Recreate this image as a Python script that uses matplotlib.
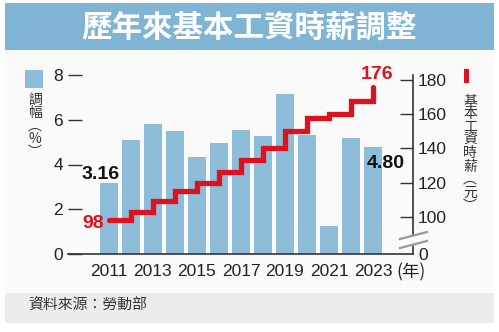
# -*- encoding: utf-8 -*-
import matplotlib
matplotlib.use('Agg')
import matplotlib.pyplot as plt
from matplotlib.patches import Rectangle, Polygon
from matplotlib.lines import Line2D

# 2011-2023 基本工資時薪與調幅
years = [2011, 2012, 2013, 2014, 2015, 2016, 2017, 2018, 2019, 2020, 2021, 2022, 2023]
pct = [3.16, 5.09, 5.80, 5.49, 4.34, 4.98, 5.54, 5.27, 7.14, 5.31, 1.27, 5.19, 4.80]
wage = [98, 103, 109, 115, 120, 126, 133, 140, 150, 158, 160, 168, 176]
year_ticks = [2011, 2013, 2015, 2017, 2019, 2021, 2023]
pct_ticks = [0, 2, 4, 6, 8]
wage_ticks = [100, 120, 140, 160, 180]

title = '歷年來基本工資時薪調整'
source = '資料來源：勞動部'
left_label = '調幅︵%︶'
right_label = '基本工資時薪︵元︶'

W, H = 499, 332
BAR = '#8dbdd8'
RED = '#e0111f'
NUM = ['Liberation Sans', 'Noto Sans CJK TC']
CJK = ['Noto Sans CJK TC', 'DejaVu Sans']


def fx(px):
    return px / W


def fy(py):
    return 1 - py / H


def vertical_text(fig, x, ytop, label, size):
    # 直書：每字一行
    fig.text(fx(x), fy(ytop), '\n'.join(label), ha='center', va='top', ma='center',
             fontsize=size, family=CJK, color='#333333', linespacing=0.92)


def wageChart():
    fig = plt.figure(figsize=(W / 100, H / 100), dpi=100)
    fig.patch.set_facecolor('white')

    # 標題列、圖區與資料來源列
    fig.patches.append(Rectangle((fx(5), fy(293)), fx(489), 243 / H, transform=fig.transFigure,
                                 facecolor='#fafafa', edgecolor='none', zorder=-2))
    fig.patches.append(Rectangle((fx(5), fy(50)), fx(489), 47 / H, transform=fig.transFigure,
                                 facecolor='#80b4d4', edgecolor='none', zorder=-2))
    fig.patches.append(Rectangle((fx(5), fy(323)), fx(489), 30 / H, transform=fig.transFigure,
                                 facecolor='#ececec', edgecolor='none', zorder=-2))
    fig.text(fx(249.5), fy(27), title, ha='center', va='center', fontsize=22,
             fontweight='bold', family=CJK, color='white')
    fig.text(fx(28), fy(306), source, ha='left', va='center', fontsize=10.7,
             family=CJK, color='#333333')

    ax = fig.add_axes([fx(68), fy(254), fx(413 - 68), (254 - 75) / H])
    ax.patch.set_visible(False)
    ax.bar(years, pct, width=0.82, color=BAR, zorder=2)
    ax.set_xlim(2009.14, 2024.82)
    ax.set_ylim(0, 8)
    ax.set_xticks(year_ticks, [str(y) for y in year_ticks])
    ax.set_yticks(pct_ticks, [str(v) for v in pct_ticks])
    ax.tick_params(axis='x', length=0, pad=7, labelsize=12.5, labelcolor='#222222')
    ax.tick_params(axis='y', direction='in', length=10, width=1, color='#333333',
                   pad=3.5, labelsize=12.5, labelcolor='#222222')
    for lab in ax.get_xticklabels() + ax.get_yticklabels():
        lab.set_family(NUM)
    for s in ['left', 'top', 'right']:
        ax.spines[s].set_visible(False)
    ax.spines['bottom'].set_color('#333333')
    ax.spines['bottom'].set_linewidth(1.2)

    ax.annotate('%.2f' % pct[0], xy=(years[0], pct[0]), xytext=(-8, 9),
                textcoords='offset pixels', ha='center', va='center',
                fontsize=14, fontweight='bold', family=NUM, color='#111111', zorder=5)
    ax.annotate('%.2f' % pct[-1], xy=(years[-1], pct[-1]), xytext=(12.5, -17),
                textcoords='offset pixels', ha='center', va='center',
                fontsize=14, fontweight='bold', family=NUM, color='#111111', zorder=5)

    # 右軸：時薪（元），下方以斷軸表示自 0 起算
    ax2 = ax.twinx()
    lo, hi = 78.17, 182.93
    ax2.set_ylim(lo, hi)
    ax2.plot(years, wage, drawstyle='steps-post', color=RED, lw=3.8,
             solid_capstyle='round', solid_joinstyle='miter', zorder=3)
    ax2.set_yticks([lo] + wage_ticks, ['0'] + [str(v) for v in wage_ticks])
    ax2.tick_params(axis='y', direction='in', length=9.5, width=1, color='#333333',
                    pad=3.6, labelsize=12.5, labelcolor='#222222')
    ax2.yaxis.get_major_ticks()[0].tick2line.set_visible(False)
    for lab in ax2.get_yticklabels():
        lab.set_family(NUM)
    for s in ['left', 'top', 'bottom']:
        ax2.spines[s].set_visible(False)
    ax2.spines['right'].set_color('#333333')
    ax2.spines['right'].set_linewidth(1.2)

    ax2.annotate(str(wage[0]), xy=(years[0], wage[0]), xytext=(-16, -3.5),
                 textcoords='offset pixels', ha='center', va='center',
                 fontsize=14, fontweight='bold', family=NUM, color=RED)
    ax2.annotate(str(wage[-1]), xy=(years[-1], wage[-1]), xytext=(4.5, 12),
                 textcoords='offset pixels', ha='center', va='center',
                 fontsize=14, fontweight='bold', family=NUM, color=RED)

    # 斷軸記號
    fig.patches.append(Polygon([(fx(405), fy(238)), (fx(421), fy(233)),
                                (fx(421), fy(242)), (fx(405), fy(247))],
                               closed=True, transform=fig.transFigure,
                               facecolor='#fafafa', edgecolor='none', zorder=10))
    for y0, y1 in [(239, 232), (248, 241)]:
        fig.lines.append(Line2D([fx(400), fx(427)], [fy(y0), fy(y1)], transform=fig.transFigure,
                                color='#9a9a9a', lw=1.6, zorder=11))

    fig.text(fx(411), fy(272), '(年)', ha='center', va='center', fontsize=12.5,
             family=CJK, color='#222222')

    # 圖例
    fig.patches.append(Rectangle((fx(25), fy(88)), fx(18), 18 / H, transform=fig.transFigure,
                                 facecolor=BAR, edgecolor='none'))
    vertical_text(fig, 35, 93, left_label, 10)
    fig.patches.append(Rectangle((fx(464), fy(83)), fx(5), 14 / H, transform=fig.transFigure,
                                 facecolor=RED, edgecolor='none'))
    vertical_text(fig, 470, 94, right_label, 10)

    fig.savefig('out.png', dpi=100)


if __name__ == "__main__":
    wageChart()
